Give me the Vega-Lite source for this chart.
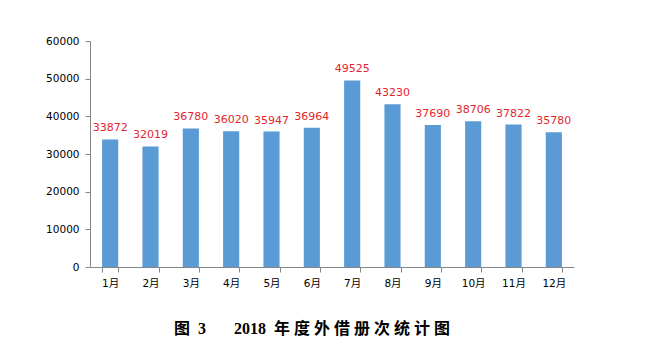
{
  "$schema": "https://vega.github.io/schema/vega-lite/v6.json",
  "width": 484,
  "height": 226,
  "autosize": "none",
  "padding": {"left": 90, "top": 41, "right": 77, "bottom": 91},
  "background": "white",
  "data": {"values": [
    {"month": "1月", "value": 33872},
    {"month": "2月", "value": 32019},
    {"month": "3月", "value": 36780},
    {"month": "4月", "value": 36020},
    {"month": "5月", "value": 35947},
    {"month": "6月", "value": 36964},
    {"month": "7月", "value": 49525},
    {"month": "8月", "value": 43230},
    {"month": "9月", "value": 37690},
    {"month": "10月", "value": 38706},
    {"month": "11月", "value": 37822},
    {"month": "12月", "value": 35780}
  ]},
  "title": {
    "text": "图\u00a0\u00a03\u00a0\u00a0\u00a0\u00a0\u00a0\u00a0\u00a02018\u00a0\u00a0年\u00a0度\u00a0外\u00a0借\u00a0册\u00a0次\u00a0统\u00a0计\u00a0图",
    "orient": "bottom",
    "anchor": "middle",
    "font": "Liberation Serif, Noto Sans CJK SC",
    "fontSize": 16,
    "fontWeight": "bold",
    "color": "#000000",
    "offset": 32,
    "dx": -20
  },
  "config": {
    "view": {"stroke": null},
    "font": "DejaVu Sans"
  },
  "encoding": {
    "x": {
      "field": "month",
      "type": "nominal",
      "sort": null,
      "scale": {"paddingInner": 0.6, "paddingOuter": 0.3},
      "axis": {
        "title": null,
        "labelAngle": 0,
        "tickBand": "extent",
        "domainColor": "#868686",
        "tickColor": "#868686",
        "tickSize": 5,
        "labelPadding": 6,
        "labelFont": "DejaVu Sans, Noto Sans CJK SC",
        "labelFontSize": 10.5,
        "labelColor": "#000000"
      }
    },
    "y": {
      "field": "value",
      "type": "quantitative",
      "scale": {"domain": [0, 60000], "nice": false},
      "axis": {
        "title": null,
        "values": [0, 10000, 20000, 30000, 40000, 50000, 60000],
        "format": "d",
        "grid": false,
        "domainColor": "#868686",
        "tickColor": "#868686",
        "tickSize": 5,
        "labelPadding": 6,
        "labelFont": "DejaVu Sans",
        "labelFontSize": 10.5,
        "labelColor": "#000000"
      }
    }
  },
  "layer": [
    {"mark": {"type": "bar", "color": "#5B9BD5"}},
    {
      "mark": {"type": "text", "baseline": "bottom", "dy": -6, "color": "#E3262E", "fontSize": 11, "font": "DejaVu Sans"},
      "encoding": {"text": {"field": "value", "type": "quantitative", "format": "d"}}
    }
  ]
}
